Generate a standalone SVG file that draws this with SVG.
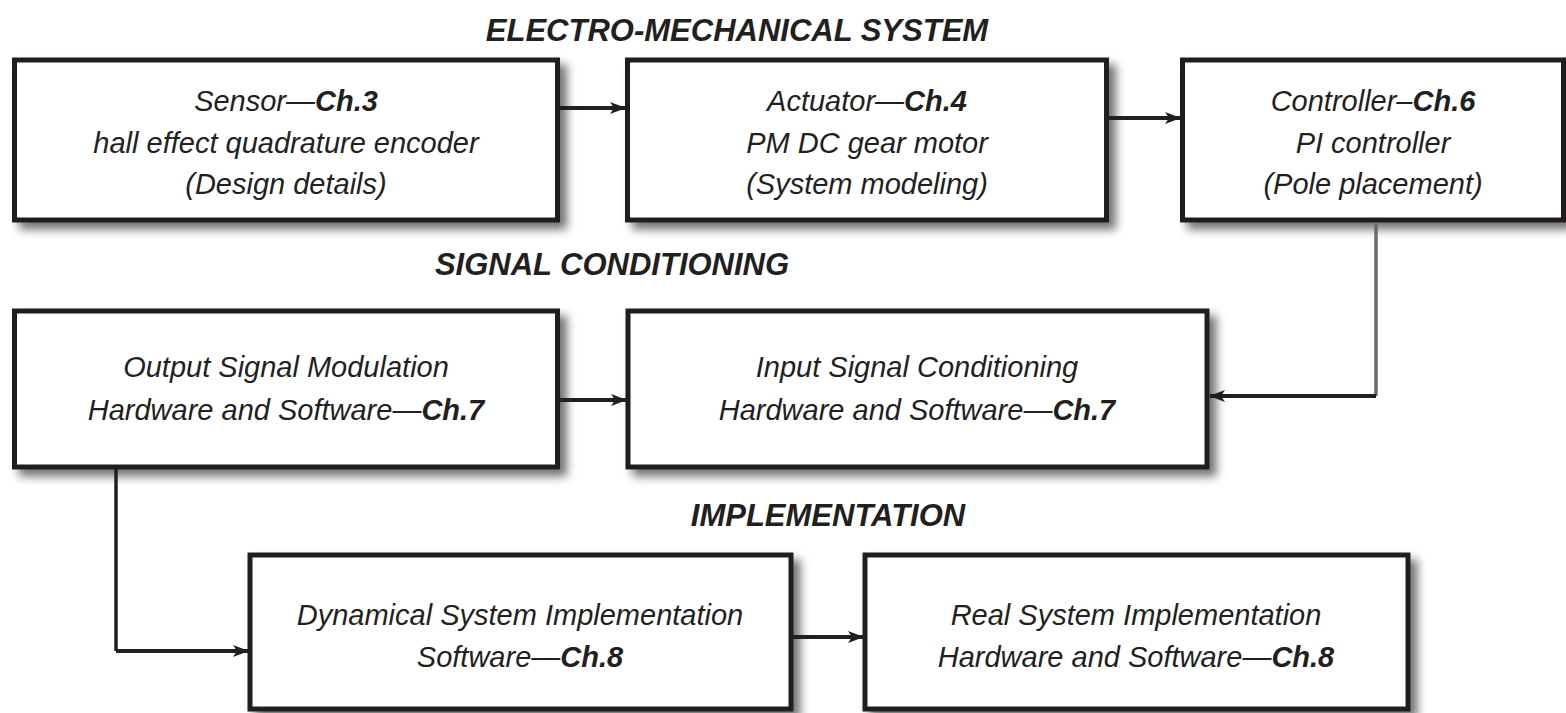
<svg xmlns="http://www.w3.org/2000/svg" width="1566" height="713" viewBox="0 0 1566 713">
<style>
.box{fill:#fff;stroke:#231f20;stroke-width:5;filter:url(#sh)}
.t{font-family:"Liberation Sans",Arial,sans-serif;font-style:italic;font-size:29px;fill:#231f20;text-anchor:middle}
.b{font-weight:bold}
.h{font-family:"Liberation Sans",Arial,sans-serif;font-style:italic;font-weight:bold;font-size:31px;fill:#231f20;text-anchor:middle}
.c{fill:none;stroke:#231f20;stroke-width:4;marker-end:url(#ah)}
.g{fill:none;stroke:#6a6a6a;stroke-width:3.5}
</style>
<defs>
<filter id="sh" x="-10%" y="-10%" width="125%" height="130%">
<feDropShadow dx="7" dy="7" stdDeviation="5" flood-color="#000" flood-opacity="0.55"/>
</filter>
<marker id="ah" viewBox="0 0 16 12" refX="15" refY="6" markerWidth="16" markerHeight="12" markerUnits="userSpaceOnUse" orient="auto">
<path d="M0,0 L16,6 L0,12 L4,6 Z" fill="#231f20"/>
</marker>
</defs>
<rect width="1566" height="713" fill="#fff"/>
<g id="titles">
<text class="h" x="737" y="41">ELECTRO-MECHANICAL SYSTEM</text>
<text class="h" x="612" y="275">SIGNAL CONDITIONING</text>
<text class="h" x="828" y="526">IMPLEMENTATION</text>
</g>
<g id="sensor">
<rect class="box" x="14.5" y="60" width="543" height="160"/>
<text class="t" x="286" y="111">Sensor—<tspan class="b">Ch.3</tspan></text>
<text class="t" x="286" y="153">hall effect quadrature encoder</text>
<text class="t" x="286" y="194">(Design details)</text>
</g>
<g id="actuator">
<rect class="box" x="627.5" y="60" width="479" height="160"/>
<text class="t" x="867" y="111">Actuator—<tspan class="b">Ch.4</tspan></text>
<text class="t" x="867" y="153">PM DC gear motor</text>
<text class="t" x="867" y="194">(System modeling)</text>
</g>
<g id="controller">
<rect class="box" x="1182.5" y="60" width="381" height="160"/>
<text class="t" x="1373" y="111">Controller–<tspan class="b">Ch.6</tspan></text>
<text class="t" x="1373" y="153">PI controller</text>
<text class="t" x="1373" y="194">(Pole placement)</text>
</g>
<g id="output">
<rect class="box" x="14.5" y="311" width="543" height="156"/>
<text class="t" x="286" y="377">Output Signal Modulation</text>
<text class="t" x="286" y="420">Hardware and Software—<tspan class="b">Ch.7</tspan></text>
</g>
<g id="input">
<rect class="box" x="628" y="311" width="579" height="156"/>
<text class="t" x="917" y="377">Input Signal Conditioning</text>
<text class="t" x="917" y="420">Hardware and Software—<tspan class="b">Ch.7</tspan></text>
</g>
<g id="dynamical">
<rect class="box" x="250" y="555" width="541" height="154"/>
<text class="t" x="520" y="625">Dynamical System Implementation</text>
<text class="t" x="520" y="667">Software—<tspan class="b">Ch.8</tspan></text>
</g>
<g id="real">
<rect class="box" x="865" y="555" width="543" height="154"/>
<text class="t" x="1136" y="625">Real System Implementation</text>
<text class="t" x="1136" y="667">Hardware and Software—<tspan class="b">Ch.8</tspan></text>
</g>
<g id="connectors">
<path class="c" d="M560,108 H625"/>
<path class="c" d="M1109,118 H1180"/>
<path class="g" d="M1376,222 V396"/>
<path class="c" d="M1376,396 H1210"/>
<path class="c" d="M560,400 H626"/>
<path class="g" d="M116,469 V651" style="stroke:#231f20;stroke-width:3.5"/>
<path class="c" d="M116,651 H248"/>
<path class="c" d="M793,637 H863"/>
</g>
</svg>
